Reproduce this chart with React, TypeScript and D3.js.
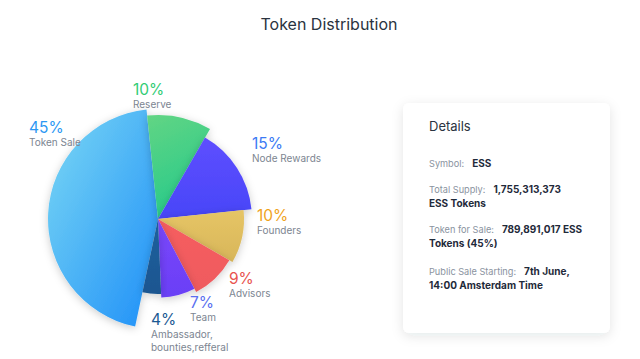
import React, { useEffect, useRef } from 'react';
import * as d3 from 'd3';

// token allocation, clockwise starting from the big slice
const categories = ['Token Sale', 'Reserve', 'Node Rewards', 'Founders', 'Advisors', 'Team', 'Ambassador'];
const shares = [45, 10, 15, 10, 9, 7, 4];
const percentLabels = ['45%', '10%', '15%', '10%', '9%', '7%', '4%'];
const subLabels = [['Token Sale'], ['Reserve'], ['Node Rewards'], ['Founders'], ['Advisors'], ['Team'], ['Ambassador,', 'bounties,refferal']];

const detailLabels = ['Symbol:', 'Total Supply:', 'Token for Sale:', 'Public Sale Starting:'];
const detailValues = [['ESS'], ['1,755,313,373', 'ESS Tokens'], ['789,891,017 ESS', 'Tokens (45%)'], ['7th June,', '14:00 Amsterdam Time']];

const W = 640;
const H = 359;

const App = () => {
  const svgRef = useRef<SVGSVGElement>(null);

  useEffect(() => {
    const svg = d3.select(svgRef.current);
    svg.selectAll('*').remove();

    const font = 'Inter, Roboto, sans-serif';
    const defs = svg.append('defs');

    const shadow = defs.append('filter').attr('id', 'sliceShadow')
      .attr('x', '-30%').attr('y', '-30%').attr('width', '160%').attr('height', '160%');
    shadow.append('feDropShadow').attr('dx', 0).attr('dy', 2).attr('stdDeviation', 4)
      .attr('flood-color', '#000').attr('flood-opacity', 0.2);

    const cardShadow = defs.append('filter').attr('id', 'cardShadow')
      .attr('x', '-20%').attr('y', '-20%').attr('width', '140%').attr('height', '140%');
    cardShadow.append('feDropShadow').attr('dx', 0).attr('dy', 3).attr('stdDeviation', 6)
      .attr('flood-color', '#1e2a3b').attr('flood-opacity', 0.11);

    // gradient pairs for each slice
    const gradStops = [
      ['#7bd8f4', '#1e8ff8'],
      ['#62d584', '#28ca8a'],
      ['#5e4fff', '#4845f8'],
      ['#e6c566', '#d8b659'],
      ['#f65e5e', '#ef5a5e'],
      ['#7a47fb', '#6a3ff6'],
      ['#1e609e', '#1a5690'],
    ];
    const gradDir = [
      [0, 0, 1, 1],
      [0, 0, 0.3, 1],
      [0, 0, 0, 1],
      [0, 0, 0, 1],
      [0, 0, 0, 1],
      [0, 0, 0, 1],
      [0, 0, 0, 1],
    ];
    gradStops.forEach((g, i) => {
      const lg = defs.append('linearGradient').attr('id', 'g' + i)
        .attr('x1', gradDir[i][0]).attr('y1', gradDir[i][1])
        .attr('x2', gradDir[i][2]).attr('y2', gradDir[i][3]);
      lg.append('stop').attr('offset', 0).attr('stop-color', g[0]);
      lg.append('stop').attr('offset', 1).attr('stop-color', g[1]);
    });

    svg.append('text')
      .attr('x', 329).attr('y', 30)
      .attr('text-anchor', 'middle')
      .attr('font-family', font).attr('font-size', 16)
      .attr('fill', '#2a3340')
      .text('Token Distribution');

    // pie
    const cx = 158;
    const cy = 219;
    const pie = d3.pie<number>().sort(null)
      .startAngle((-168 * Math.PI) / 180)
      .endAngle((192 * Math.PI) / 180);
    const arcs = pie(shares);

    // radius steps down clockwise
    const rScale = d3.scaleLinear().domain([0, 1, 2, 3, 6]).range([110, 104, 94, 86, 75]);

    const g = svg.append('g').attr('transform', `translate(${cx},${cy})`);
    g.selectAll('path')
      .data(arcs)
      .join('path')
      .attr('d', (d, i) => d3.arc<any>().innerRadius(0).outerRadius(rScale(i))(d))
      .attr('fill', (d, i) => `url(#g${i})`)
      .attr('filter', 'url(#sliceShadow)');

    // labels
    const pctColors = ['#2c98f3', '#32cc74', '#3b7af4', '#f0a31c', '#e8534f', '#5a6ff0', '#1b5a93'];
    const labelPos = [
      [29, 133], [133, 95], [252, 149], [257, 221], [229, 284], [190, 308], [151, 325],
    ];
    categories.forEach((c, i) => {
      const [x, y] = labelPos[i];
      svg.append('text')
        .attr('x', x).attr('y', y)
        .attr('font-family', font).attr('font-size', 15.5)
        .attr('fill', pctColors[i])
        .text(percentLabels[i]);
      subLabels[i].forEach((s, j) => {
        svg.append('text')
          .attr('x', x).attr('y', y + 13 + j * 13)
          .attr('font-family', font).attr('font-size', 10)
          .attr('fill', '#7c8591')
          .text(s);
      });
    });

    // details card
    svg.append('rect')
      .attr('x', 403).attr('y', 103).attr('width', 207).attr('height', 230)
      .attr('rx', 6).attr('fill', '#fff')
      .attr('filter', 'url(#cardShadow)');

    svg.append('text')
      .attr('x', 429).attr('y', 131)
      .attr('font-family', font).attr('font-size', 13)
      .attr('fill', '#2a3340')
      .text('Details');

    const rowY = [167, 193, 233, 275];
    detailLabels.forEach((l, i) => {
      const t = svg.append('text')
        .attr('x', 429).attr('y', rowY[i])
        .attr('font-family', font).attr('font-size', 9.2);
      t.append('tspan').attr('fill', '#8a93a0').text(l);
      t.append('tspan').attr('dx', 8).attr('fill', '#1f2a3a')
        .attr('font-weight', 700).attr('font-size', 10)
        .text(detailValues[i][0]);
      if (detailValues[i][1]) {
        svg.append('text')
          .attr('x', 429).attr('y', rowY[i] + 14)
          .attr('font-family', font).attr('font-size', 10)
          .attr('font-weight', 700).attr('fill', '#1f2a3a')
          .text(detailValues[i][1]);
      }
    });
  }, []);

  return (
    <svg
      ref={svgRef}
      width={W}
      height={H}
      style={{ position: 'absolute', left: 0, top: 0, background: '#fff' }}
    ></svg>
  );
};

export default App;
